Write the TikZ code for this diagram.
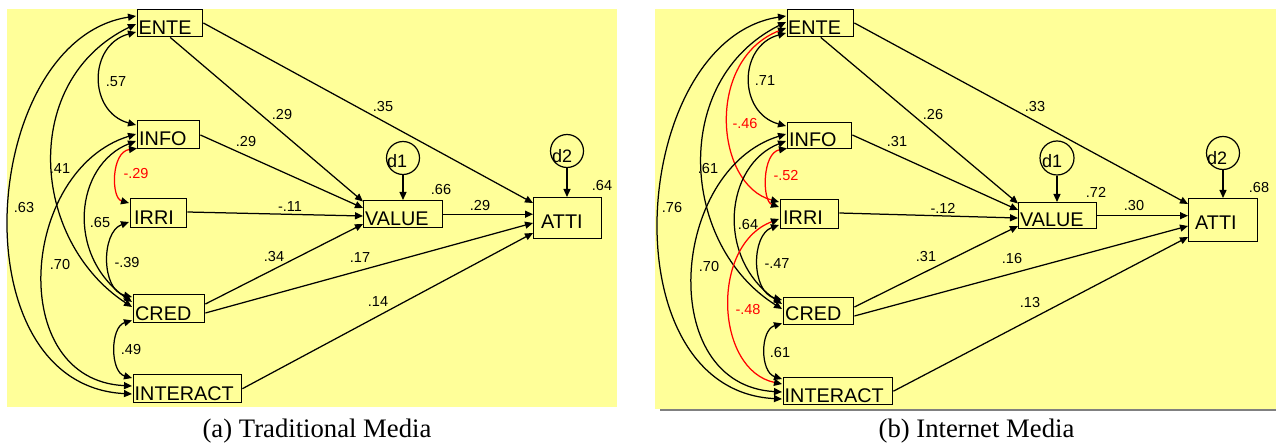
\documentclass[tikz,border=0pt]{standalone}
\usepackage{fontspec}
\setmainfont{Liberation Serif}
\newfontfamily\arialfam{Liberation Sans}
\usetikzlibrary{arrows.meta,calc}
\definecolor{bgyellow}{HTML}{FFFF99}
\definecolor{corred}{HTML}{FF0000}
\definecolor{edgegray}{HTML}{808080}
\begin{document}
\begin{tikzpicture}[x=1pt,y=-1pt,
  box/.style={draw=black,line width=1.4pt,inner sep=0,anchor=north west},
  btext/.style={font=\arialfam\fontsize{19.8}{20}\selectfont,inner sep=0,anchor=base west},
  dtext/.style={font=\arialfam\fontsize{18}{19}\selectfont,inner sep=0,anchor=base west},
  lab/.style={font=\arialfam\fontsize{14.5}{15}\selectfont,inner sep=0},
  rlab/.style={lab,text=corred},
  dist/.style={draw=black,circle,line width=1.2pt,minimum size=33pt,inner sep=0},
  capt/.style={font=\fontsize{26.7}{28}\selectfont,inner sep=0,anchor=base},
  pth/.style={line width=1.25pt,-{Triangle[length=8pt,width=7pt]}},
  cov/.style={line width=1.25pt,{Triangle[length=8pt,width=7pt,color=black]}-{Triangle[length=8pt,width=7pt,color=black]}},
  rcov/.style={cov,draw=corred}
]
\useasboundingbox (0,0) rectangle (1276,443);
% backgrounds
\fill[bgyellow] (7,9) rectangle (617,407);
\fill[bgyellow] (655,9) rectangle (1276,409);
\draw[edgegray,line width=2pt] (660,410) -- (1276,410);

% ================= panel (a) =================
\node[box,minimum width=65pt,minimum height=27pt] (aENTE) at (137,9) {};
\node[box,minimum width=62pt,minimum height=28pt] (aINFO) at (137,120) {};
\node[box,minimum width=56pt,minimum height=29pt] (aIRRI) at (130,198) {};
\node[box,minimum width=71pt,minimum height=28pt] (aCRED) at (133,294) {};
\node[box,minimum width=108pt,minimum height=28pt] (aINTERACT) at (133,374) {};
\node[box,minimum width=79pt,minimum height=27pt] (aVALUE) at (363,200) {};
\node[box,minimum width=68pt,minimum height=41pt] (aATTI) at (533,197) {};
\node[dist] (ad1) at (403,158) {};
\node[dist] (ad2) at (567,151) {};

\node[btext] (taENTE) at (138.5,35) {ENTE};
\node[btext] (taINFO) at (139,146) {INFO};
\node[btext] (taIRRI) at (134,224.5) {IRRI};
\node[btext] (taCRED) at (135,320) {CRED};
\node[btext] (taINTERACT) at (134.5,400) {INTERACT};
\node[btext] (taVALUE) at (365,226) {VALUE};
\node[btext] (taATTI) at (541,229) {ATTI};
\node[dtext] (tad1) at (387,168) {d1};
\node[dtext] (tad2) at (552,163) {d2};

% paths
\draw[pth] (aENTE.south) -- ($(aVALUE.north west)+(0,1.5)$);
\draw[pth] ($(aINFO.north east)+(0,15)$) -- ($(aVALUE.north west)+(0,8)$);
\draw[pth] ($(aIRRI.north east)+(0,14)$) -- ($(aVALUE.north west)+(0,16)$);
\draw[pth] ($(aCRED.north east)+(0,10)$) -- ($(aVALUE.north west)+(0,24)$);
\draw[pth] ($(aENTE.north east)+(0,14)$) -- ($(aATTI.north west)+(0,6)$);
\draw[pth] (aVALUE.east) -- (aVALUE.east -| aATTI.west);
\draw[pth] ($(aCRED.north east)+(0,19)$) -- ($(aATTI.north west)+(0,26)$);
\draw[pth] (aINTERACT.east) -- ($(aATTI.north west)+(0,36)$);
\draw[pth] (ad1.south) -- (ad1.south |- aVALUE.north);
\draw[pth] (ad2.south) -- (ad2.south |- aATTI.north);

% covariances
\draw[cov] ($(aENTE.north west)+(-1,23)$) .. controls (88,45) and (88,112) .. ($(aINFO.north west)+(-1,5)$);
\draw[cov] ($(aENTE.north west)+(-1,15)$) .. controls (20,80) and (30,240) .. ($(aCRED.north west)+(-1,13)$);
\draw[cov] ($(aENTE.north west)+(-1,7)$) .. controls (-20,40) and (-45,385) .. ($(aINTERACT.north west)+(-1,20)$);
\draw[rcov] ($(aINFO.south west)+(0,-1)$) .. controls (111,152) and (111,198) .. ($(aIRRI.north west)+(-1,5)$);
\draw[cov] ($(aINFO.north west)+(-1,14)$) .. controls (20,170) and (5,380) .. ($(aINTERACT.north west)+(-1,12)$);
\draw[cov] ($(aINFO.north west)+(-1,21)$) .. controls (75,165) and (65,255) .. ($(aCRED.north west)+(-1,8)$);
\draw[cov] ($(aIRRI.north west)+(-1,24)$) .. controls (101,232) and (101,290) .. ($(aCRED.north west)+(-1,3)$);
\draw[cov] ($(aCRED.south west)+(-1,-3)$) .. controls (110,327) and (110,372) .. ($(aINTERACT.north west)+(-1,4)$);

% labels
\node[lab] (la1) at (116,82) {.57};
\node[rlab] (la2) at (136,174) {-.29};
\node[lab] (la3) at (60,169) {.41};
\node[lab] (la4) at (24,208) {.63};
\node[lab] (la5) at (100,223) {.65};
\node[lab] (la6) at (127,263) {-.39};
\node[lab] (la7) at (60,265) {.70};
\node[lab] (la8) at (131,350) {.49};
\node[lab] (la9) at (282,115) {.29};
\node[lab] (la10) at (246,142) {.29};
\node[lab] (la11) at (290,207) {-.11};
\node[lab] (la12) at (274,257) {.34};
\node[lab] (la13) at (383,107) {.35};
\node[lab] (la14) at (360,258) {.17};
\node[lab] (la15) at (378,302) {.14};
\node[lab] (la16) at (441,190) {.66};
\node[lab] (la17) at (480,206) {.29};
\node[lab] (la18) at (602,186) {.64};

\node[capt] (capa) at (317,437) {(a) Traditional Media};

% ================= panel (b) =================
\node[box,minimum width=66pt,minimum height=27pt] (bENTE) at (787,9) {};
\node[box,minimum width=64pt,minimum height=26pt] (bINFO) at (787,122) {};
\node[box,minimum width=58pt,minimum height=29pt] (bIRRI) at (780,199) {};
\node[box,minimum width=70pt,minimum height=27pt] (bCRED) at (783,297) {};
\node[box,minimum width=109pt,minimum height=27pt] (bINTERACT) at (783,377) {};
\node[box,minimum width=78pt,minimum height=26pt] (bVALUE) at (1018,202) {};
\node[box,minimum width=69pt,minimum height=43pt] (bATTI) at (1188,198) {};
\node[dist,minimum size=34pt] (bd1) at (1057,158) {};
\node[dist] (bd2) at (1223,153) {};

\node[btext] (tbENTE) at (788,35) {ENTE};
\node[btext] (tbINFO) at (789,147) {INFO};
\node[btext] (tbIRRI) at (783,225) {IRRI};
\node[btext] (tbCRED) at (785,321) {CRED};
\node[btext] (tbINTERACT) at (784.5,402) {INTERACT};
\node[btext] (tbVALUE) at (1020,227) {VALUE};
\node[btext] (tbATTI) at (1195,230) {ATTI};
\node[dtext] (tbd1) at (1042,168) {d1};
\node[dtext] (tbd2) at (1207,165) {d2};

\draw[pth] (bENTE.south) -- ($(bVALUE.north west)+(0,1.5)$);
\draw[pth] ($(bINFO.north east)+(0,13)$) -- ($(bVALUE.north west)+(0,8)$);
\draw[pth] ($(bIRRI.north east)+(0,14)$) -- ($(bVALUE.north west)+(0,16)$);
\draw[pth] ($(bCRED.north east)+(0,10)$) -- ($(bVALUE.north west)+(0,24)$);
\draw[pth] ($(bENTE.north east)+(0,14)$) -- ($(bATTI.north west)+(0,6)$);
\draw[pth] (bVALUE.east) -- (bVALUE.east -| bATTI.west);
\draw[pth] ($(bCRED.north east)+(0,19)$) -- ($(bATTI.north west)+(0,28)$);
\draw[pth] (bINTERACT.east) -- ($(bATTI.north west)+(0,39)$);
\draw[pth] (bd1.south) -- (bd1.south |- bVALUE.north);
\draw[pth] (bd2.south) -- (bd2.south |- bATTI.north);

\draw[cov] ($(bENTE.north west)+(-1,24)$) .. controls (738,46) and (738,113) .. ($(bINFO.north west)+(-1,4)$);
\draw[rcov] ($(bENTE.north west)+(-1,19)$) .. controls (705,60) and (715,185) .. ($(bIRRI.north west)+(-1,3)$);
\draw[cov] ($(bENTE.north west)+(-1,13)$) .. controls (670,80) and (680,245) .. ($(bCRED.north west)+(-1,12)$);
\draw[cov] ($(bENTE.north west)+(-1,7)$) .. controls (630,40) and (605,390) .. ($(bINTERACT.north west)+(-1,22)$);
\draw[rcov] ($(bINFO.south west)+(0,-1)$) .. controls (762,153) and (762,201) .. ($(bIRRI.north west)+(-1,8)$);
\draw[cov] ($(bINFO.north west)+(-1,12)$) .. controls (670,170) and (655,385) .. ($(bINTERACT.north west)+(-1,15)$);
\draw[cov] ($(bINFO.north west)+(-1,19)$) .. controls (725,165) and (715,258) .. ($(bCRED.north west)+(-1,7)$);
\draw[rcov] ($(bIRRI.north west)+(-1,20)$) .. controls (710,245) and (715,370) .. ($(bINTERACT.north west)+(-1,7)$);
\draw[cov] ($(bIRRI.north west)+(-1,26)$) .. controls (751,235) and (751,292) .. ($(bCRED.north west)+(-1,3)$);
\draw[cov] ($(bCRED.south west)+(-1,-2)$) .. controls (760,330) and (760,372) .. ($(bINTERACT.north west)+(-1,2)$);

\node[lab] (lb1) at (765,81) {.71};
\node[rlab] (lb2) at (745,124) {-.46};
\node[rlab] (lb3) at (786,176) {-.52};
\node[lab] (lb4) at (708,169) {.61};
\node[lab] (lb5) at (672,208) {.76};
\node[lab] (lb6) at (748,225) {.64};
\node[lab] (lb7) at (709,267) {.70};
\node[lab] (lb8) at (777,264) {-.47};
\node[rlab] (lb9) at (748,310) {-.48};
\node[lab] (lb10) at (780,353) {.61};
\node[lab] (lb11) at (933,115) {.26};
\node[lab] (lb12) at (897,142) {.31};
\node[lab] (lb13) at (943,208) {-.12};
\node[lab] (lb14) at (926,257) {.31};
\node[lab] (lb15) at (1035,107) {.33};
\node[lab] (lb16) at (1012,259) {.16};
\node[lab] (lb17) at (1030,303) {.13};
\node[lab] (lb18) at (1096,192) {.72};
\node[lab] (lb19) at (1134,206) {.30};
\node[lab] (lb20) at (1259,188) {.68};

\node[capt] (capb) at (976.5,437) {(b) Internet Media};
\end{tikzpicture}
\end{document}
